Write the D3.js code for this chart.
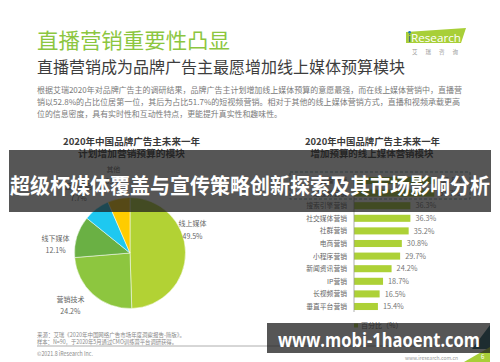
<!DOCTYPE html>
<html><head><meta charset="utf-8">
<script src="https://cdn.jsdelivr.net/npm/d3@7"></script>
<style>
html,body{margin:0;padding:0;background:#fff;}
svg{display:block;font-family:"Noto Sans CJK SC","Noto Sans",sans-serif;}
</style>
</head><body>
<svg id="c" width="500" height="362"></svg>
<script>
// ---------- data ----------
const pieLabels = ["线上媒体", "营销技术", "线下媒体", "营销服务", "其他"];
const pieValues = [49.5, 24.2, 12.1, 7.7, 6.5];
const barCategories = ["直播营销", "短视频营销", "搜索引擎营销", "社交媒体营销", "社群营销", "电商营销", "小程序营销", "新闻资讯营销", "IP营销", "长视频营销", "垂直平台营销"];
const barValues = [52.8, 51.7, 36.3, 36.3, 35.2, 30.8, 29.7, 24.2, 18.7, 16.5, 15.4];
const bodyLines = [
  "根据艾瑞2020年对品牌广告主的调研结果，品牌广告主计划增加线上媒体预算的意愿最强，而在线上媒体营销中，直播营",
  "销以52.8%的占比位居第一位，其后为占比51.7%的短视频营销。相对于其他的线上媒体营销方式，直播和视频承载更高",
  "位的信息密度，具有实时性和互动性特点，更能提升真实性和趣味性。"
];

// ---------- layout / style ----------
const pieColors = ["#b2d234", "#8dc63f", "#6ab044", "#1ec8f0", "#ffcc00"];
// label placement (angle in degrees clockwise from 12 o'clock, radius)
const pieLabelPlace = [{a: 69, r: 67}, {a: 229, r: 79}, {a: 277, r: 75}, {a: 320, r: 80}, {a: 348, r: 80}];
const svg = d3.select("#c");

// headline
svg.append("text").attr("x", 37).attr("y", 48).attr("font-size", 21).attr("fill", "#8cc63f")
  .attr("textLength", 193).attr("lengthAdjust", "spacingAndGlyphs").text("直播营销重要性凸显");
svg.append("text").attr("x", 37).attr("y", 72.5).attr("font-size", 16).attr("fill", "#3d3d3d")
  .attr("textLength", 368).attr("lengthAdjust", "spacingAndGlyphs").text("直播营销成为品牌广告主最愿增加线上媒体预算模块");
const bodyW = [425, 423, 245];
bodyLines.forEach((t, i) => {
  svg.append("text").attr("x", 37).attr("y", 93 + i * 11.8).attr("font-size", 8.2).attr("fill", "#7a7a7a")
    .attr("textLength", bodyW[i]).attr("lengthAdjust", "spacingAndGlyphs").text(t);
});

// logo
svg.append("polygon").attr("points", "406,32 466,28 461,43 406,43").attr("fill", "#a8cf38");
svg.append("text").attr("x", 408).attr("y", 41.5).attr("font-family", "'Open Sans',sans-serif").attr("font-size", 11)
  .attr("fill", "#fff").attr("textLength", 53).attr("lengthAdjust", "spacingAndGlyphs")
  .html('<tspan fill="#1a5e8c">i</tspan>Research');
svg.append("circle").attr("cx", 409.6).attr("cy", 32.3).attr("r", 1.3).attr("fill", "#1b75bc");
svg.append("text").attr("x", 412).attr("y", 53.5).attr("font-size", 5.5).attr("fill", "#999")
  .attr("textLength", 46).attr("lengthAdjust", "spacing").text("艾瑞咨询");

// ---------- pie ----------
const cx = 130, cy = 253, R = 55.5;
svg.append("text").attr("x", 131.5).attr("y", 145).attr("text-anchor", "middle").attr("font-size", 9.5)
  .attr("font-weight", 700).attr("fill", "#3a3a3a").attr("textLength", 137).attr("lengthAdjust", "spacingAndGlyphs")
  .text("2020年中国品牌广告主未来一年");
svg.append("text").attr("x", 131.5).attr("y", 156.5).attr("text-anchor", "middle").attr("font-size", 9.5)
  .attr("font-weight", 700).attr("fill", "#3a3a3a").attr("textLength", 107).attr("lengthAdjust", "spacingAndGlyphs")
  .text("计划增加营销预算的模块");

const pie = d3.pie().sort(null).value(d => d)(pieValues);
const arc = d3.arc().innerRadius(0).outerRadius(R);
const gp = svg.append("g").attr("transform", `translate(${cx},${cy})`);
gp.selectAll("path").data(pie).join("path").attr("d", arc)
  .attr("fill", (d, i) => pieColors[i]).attr("stroke", "#fff").attr("stroke-width", 0.5);
pie.forEach((d, i) => {
  const p = pieLabelPlace[i];
  const a = p.a * Math.PI / 180;
  const x = Math.sin(a) * p.r, y = -Math.cos(a) * p.r;
  const t = gp.append("text").attr("text-anchor", "middle").attr("font-size", 7).attr("fill", "#666");
  t.append("tspan").attr("x", x).attr("y", y - 3).text(pieLabels[i]);
  t.append("tspan").attr("x", x).attr("y", y + 9.5).text(pieValues[i].toFixed(1) + "%");
});

// ---------- bars ----------
svg.append("text").attr("x", 372.5).attr("y", 145).attr("text-anchor", "middle").attr("font-size", 9.5)
  .attr("font-weight", 700).attr("fill", "#3a3a3a").attr("textLength", 135).attr("lengthAdjust", "spacingAndGlyphs")
  .text("2020年中国品牌广告主未来一年");
svg.append("text").attr("x", 372).attr("y", 156.5).attr("text-anchor", "middle").attr("font-size", 9.5)
  .attr("font-weight", 700).attr("fill", "#3a3a3a").attr("textLength", 123).attr("lengthAdjust", "spacingAndGlyphs")
  .text("增加预算的线上媒体营销模块");

const x = d3.scaleLinear().domain([0, 52.8]).range([354, 436]);
const y = d3.scaleBand().domain(barCategories).range([174.2, 312.8]).paddingInner(0.44).paddingOuter(0.22);
svg.append("rect").attr("x", 290).attr("y", 172).attr("width", 180).attr("height", 27)
  .attr("fill", "none").attr("stroke", "#6a9ea6").attr("stroke-width", 0.9).attr("stroke-dasharray", "3,2");
svg.selectAll(".bar").data(barValues).join("rect").attr("class", "bar")
  .attr("x", x(0)).attr("y", (d, i) => y(barCategories[i]))
  .attr("width", d => x(d) - x(0)).attr("height", y.bandwidth()).attr("fill", "#add136");
svg.append("line").attr("x1", x(0)).attr("x2", x(0)).attr("y1", 174).attr("y2", 312)
  .attr("stroke", "#999").attr("stroke-width", 0.8);
svg.selectAll(".cat").data(barCategories).join("text").attr("class", "cat")
  .attr("x", 347).attr("y", d => y(d) + y.bandwidth() / 2 + 2.4).attr("text-anchor", "end")
  .attr("font-size", 6.8).attr("fill", "#666").text(d => d);
svg.selectAll(".val").data(barValues).join("text").attr("class", "val")
  .attr("x", d => x(d) + 5).attr("y", (d, i) => y(barCategories[i]) + y.bandwidth() / 2 + 2.6)
  .attr("font-size", 7.3).attr("fill", "#777").text(d => d.toFixed(1) + "%");
// legend
svg.append("rect").attr("x", 354).attr("y", 323.5).attr("width", 4).attr("height", 4).attr("fill", "#add136");
svg.append("text").attr("x", 361).attr("y", 328).attr("font-size", 7).attr("fill", "#666").text("百分比（%）");

// ---------- footer ----------
svg.append("text").attr("x", 37).attr("y", 337).attr("font-size", 6).attr("fill", "#8a8a8a")
  .attr("textLength", 148).attr("lengthAdjust", "spacingAndGlyphs").text("来源：艾瑞《2020年中国网络广告市场年度洞察报告-简版》。");
svg.append("text").attr("x", 37).attr("y", 344).attr("font-size", 6).attr("fill", "#8a8a8a")
  .attr("textLength", 140).attr("lengthAdjust", "spacingAndGlyphs").text("样本：N=90，于2020年5月通过CMO训练营平台调研获得。");
svg.append("line").attr("x1", 37).attr("x2", 470).attr("y1", 346).attr("y2", 346).attr("stroke", "#9a9a9a").attr("stroke-width", 0.8);
svg.append("text").attr("x", 37).attr("y", 355.5).attr("font-size", 6).attr("fill", "#8a8a8a")
  .attr("textLength", 56).attr("lengthAdjust", "spacingAndGlyphs").text("©2021.8 iResearch Inc.");
svg.append("text").attr("x", 405).attr("y", 360).attr("font-size", 5.5).attr("fill", "#9a9a9a")
  .attr("textLength", 53).attr("lengthAdjust", "spacingAndGlyphs").text("www.iresearch.com.cn");
svg.append("polygon").attr("points", "490,325 490,349 472,349").attr("fill", "#1f5a6a");
svg.append("polygon").attr("points", "464,362 490,347 490,362").attr("fill", "#a8cf38");
svg.append("text").attr("x", 481).attr("y", 359).attr("font-size", 6).attr("fill", "#fff").text("6");

// ---------- overlay bands ----------
svg.append("rect").attr("x", 9).attr("y", 150).attr("width", 482).attr("height", 62).attr("fill", "rgba(30,30,30,0.75)");
svg.append("text").attr("x", 10).attr("y", 193).attr("font-size", 21).attr("font-weight", 700).attr("fill", "#fff")
  .attr("textLength", 480).attr("lengthAdjust", "spacingAndGlyphs").text("超级杯媒体覆盖与宣传策略创新探索及其市场影响分析");
svg.append("rect").attr("x", 267).attr("y", 323).attr("width", 223).attr("height", 30).attr("fill", "rgba(30,30,30,0.75)");
svg.append("text").attr("x", 278).attr("y", 346.5).attr("font-family", "'Open Sans',sans-serif").attr("font-size", 19)
  .attr("font-weight", 700).attr("fill", "#fff").attr("textLength", 202).attr("lengthAdjust", "spacingAndGlyphs")
  .text("www.mobi-1haoent.com");
</script>
</body></html>
